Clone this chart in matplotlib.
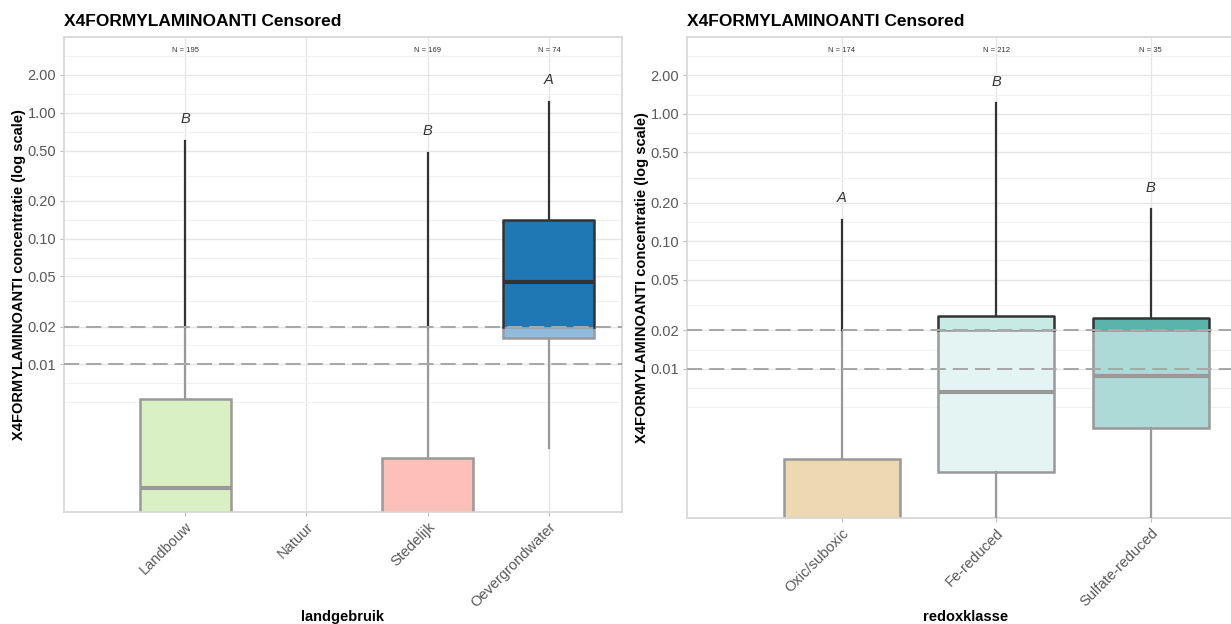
import numpy as np
import matplotlib.pyplot as plt
from matplotlib.colors import to_rgb
from matplotlib.patches import Rectangle
from matplotlib.transforms import blended_transform_factory

plt.rcParams['font.family'] = ['Liberation Sans', 'DejaVu Sans']

title = "X4FORMYLAMINOANTI Censored"
ylabel = "X4FORMYLAMINOANTI concentratie (log scale)"
det_limit = 0.02
ref_lines = [0.02, 0.01]
y_ticks = [0.01, 0.02, 0.05, 0.1, 0.2, 0.5, 1, 2]

# landgebruik panel
land_cats = ["Landbouw", "Natuur", "Stedelijk", "Oevergrondwater"]
land_colors = ["#b2df8a", "#33a02c", "#fb8072", "#1f78b4"]
land_n = [195, None, 169, 74]
land_letters = ["B", None, "B", "A"]
land_wlo = [0.0001, None, 0.0001, 0.00215]
land_q1 = [0.0004, None, 0.0003, 0.0163]
land_med = [0.00105, None, 0.0005, 0.0455]
land_q3 = [0.00527, None, 0.00181, 0.1416]
land_whi = [0.60, None, 0.48, 1.22]

# redoxklasse panel
redox_cats = ["Oxic/suboxic", "Fe-reduced", "Sulfate-reduced"]
redox_colors = ["#d8b365", "#c7eae5", "#5ab4ac"]
redox_n = [174, 212, 35]
redox_letters = ["A", "B", "B"]
redox_wlo = [0.0001, 0.0003, 0.0004]
redox_q1 = [0.0003, 0.00156, 0.00344]
redox_med = [0.0005, 0.00663, 0.00878]
redox_q3 = [0.00196, 0.026, 0.0252]
redox_whi = [0.148, 1.21, 0.178]

DARK = "#333333"
GREY = "#999999"


def lighten(c, a=0.5):
    r = np.array(to_rgb(c))
    return tuple(r * a + (1 - a))


def vline(ax, x, a, b):
    # vertical segment, dark above the detection limit, grey below
    if b <= det_limit:
        ax.plot([x, x], [a, b], color=GREY, lw=1.6, zorder=3)
    elif a >= det_limit:
        ax.plot([x, x], [a, b], color=DARK, lw=1.6, zorder=3)
    else:
        ax.plot([x, x], [a, det_limit], color=GREY, lw=1.6, zorder=3)
        ax.plot([x, x], [det_limit, b], color=DARK, lw=1.6, zorder=3)


def draw_panel(ax, cats, colors, ns, letters, wlo, q1, med, q3, whi,
               xlabel, ylim, h_px, w_px):
    pos = np.arange(1, len(cats) + 1)
    hw = 0.375
    for i, p in enumerate(pos):
        if q3[i] is None:
            continue
        x0, x1 = p - hw, p + hw
        vline(ax, p, q3[i], whi[i])
        vline(ax, p, wlo[i], q1[i])
        if q1[i] < det_limit:
            top = min(q3[i], det_limit)
            ax.add_patch(Rectangle((x0, q1[i]), 2 * hw, top - q1[i],
                                   facecolor=lighten(colors[i]), edgecolor=GREY,
                                   lw=1.8, zorder=2))
        if q3[i] > det_limit:
            bot = max(q1[i], det_limit)
            ax.add_patch(Rectangle((x0, bot), 2 * hw, q3[i] - bot,
                                   facecolor=colors[i], edgecolor='none', zorder=2))
            ax.plot([x0, x0, x1, x1], [bot, q3[i], q3[i], bot],
                    color=DARK, lw=1.8, zorder=3)
        mc = DARK if med[i] >= det_limit else GREY
        ax.plot([x0, x1], [med[i], med[i]], color=mc, lw=3, zorder=4,
                solid_capstyle='butt')
        ax.annotate(letters[i], (p, whi[i]), xytext=(0, 15.5),
                    textcoords='offset points', ha='center', va='center',
                    fontsize=10.5, style='italic', color=DARK, zorder=6)
        tr = blended_transform_factory(ax.transData, ax.transAxes)
        ax.text(p, 0.971, f"N = {ns[i]}", transform=tr, ha='center',
                va='center', fontsize=5.5, color=DARK)

    for v in ref_lines:
        ax.axhline(v, color="#a8a8a8", lw=1.45, dashes=(7.5, 3.5), zorder=5)

    ax.set_yscale('log')
    ax.set_ylim(*ylim)
    ax.set_xlim(0, len(cats) + 0.6)
    ax.set_yticks(y_ticks)
    ax.set_yticklabels([f"{v:.2f}" for v in y_ticks])
    ext = [y_ticks[0] ** 2 / y_ticks[1]] + y_ticks + [y_ticks[-1] ** 2 / y_ticks[-2]]
    ext = np.array(ext)
    minors = np.concatenate([ext[[0, -1]], np.sqrt(ext[:-1] * ext[1:])])
    ax.set_yticks(minors, minor=True)
    ax.set_xticks(pos)
    ax.set_xticklabels(cats, rotation=45, ha='right', va='top',
                       rotation_mode='anchor')
    ax.tick_params(axis='both', which='major', labelsize=10.5,
                   labelcolor="#595959", color="#bdbdbd", length=3, pad=2.5)
    ax.tick_params(axis='y', which='minor', length=0, labelleft=False)
    ax.grid(True, which='major', color="#e6e6e6", lw=1.0)
    ax.grid(True, which='minor', axis='y', color="#f1f1f1", lw=0.7)
    ax.set_axisbelow(True)
    for s in ax.spines.values():
        s.set_color("#d6d6d6")
        s.set_linewidth(1.2)

    ax.text(0, 1 + 15.3 / h_px, title, transform=ax.transAxes, ha='left',
            va='center', fontsize=12.5, fontweight='bold', color='black')
    ax.text(-45 / w_px, 0.5, ylabel, transform=ax.transAxes, rotation=90,
            ha='center', va='center', fontsize=10.5, fontweight='bold')
    ax.text(0.5, -(616.7 - (37 + h_px)) / h_px, xlabel, transform=ax.transAxes,
            ha='center', va='center', fontsize=10.5, fontweight='bold')


W, H = 1231, 624
fig = plt.figure(figsize=(W / 100, H / 100), dpi=100)

ax1 = fig.add_axes([64 / W, (H - 512) / H, 557.7 / W, 475 / H])
draw_panel(ax1, land_cats, land_colors, land_n, land_letters, land_wlo,
           land_q1, land_med, land_q3, land_whi, "landgebruik",
           (0.000671, 3.68), 475, 557.7)

ax2 = fig.add_axes([687 / W, (H - 518) / H, 556.6 / W, 481 / H])
draw_panel(ax2, redox_cats, redox_colors, redox_n, redox_letters, redox_wlo,
           redox_q1, redox_med, redox_q3, redox_whi, "redoxklasse",
           (0.000675, 3.62), 481, 556.6)

fig.savefig("out.png", dpi=100)
